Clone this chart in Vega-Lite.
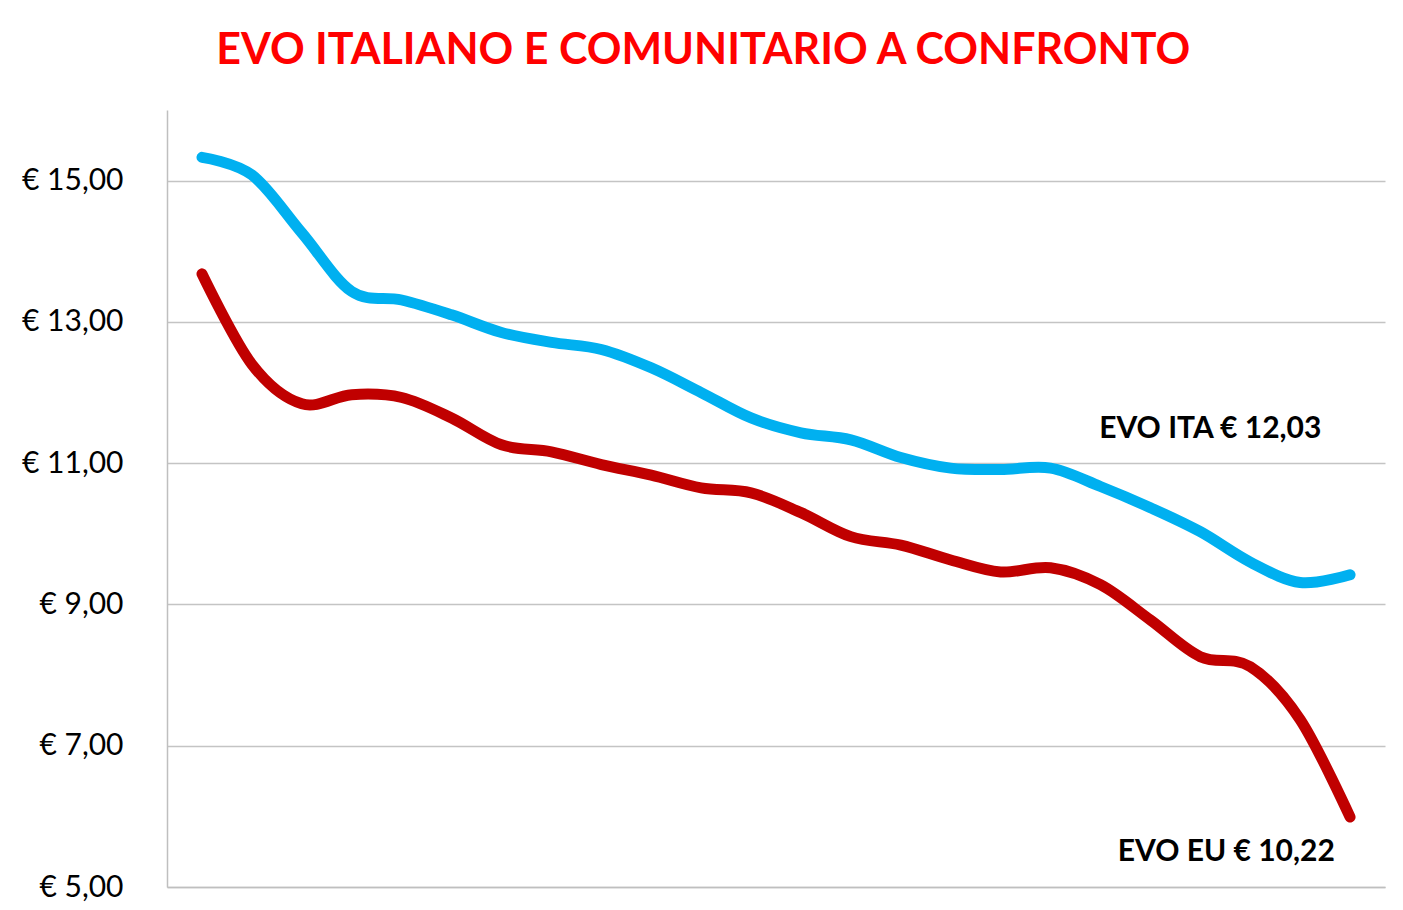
{
  "$schema": "https://vega.github.io/schema/vega-lite/v6.json",
  "width": 1218,
  "height": 777,
  "autosize": {"type": "none"},
  "padding": {"left": 167, "top": 110, "right": 18, "bottom": 23},
  "background": "white",
  "title": {
    "text": "EVO ITALIANO E COMUNITARIO A CONFRONTO",
    "color": "#FF0000",
    "font": "Lato",
    "fontSize": 43,
    "fontWeight": "bold",
    "anchor": "middle",
    "frame": "bounds",
    "offset": 37
  },
  "config": {"view": {"stroke": null}},
  "datasets": {
    "prices": [
      {"idx": 1, "serie": "EVO ITA", "prezzo": 15.33},
      {"idx": 2, "serie": "EVO ITA", "prezzo": 15.08},
      {"idx": 3, "serie": "EVO ITA", "prezzo": 14.26},
      {"idx": 4, "serie": "EVO ITA", "prezzo": 13.43},
      {"idx": 5, "serie": "EVO ITA", "prezzo": 13.31},
      {"idx": 6, "serie": "EVO ITA", "prezzo": 13.10},
      {"idx": 7, "serie": "EVO ITA", "prezzo": 12.85},
      {"idx": 8, "serie": "EVO ITA", "prezzo": 12.71},
      {"idx": 9, "serie": "EVO ITA", "prezzo": 12.61},
      {"idx": 10, "serie": "EVO ITA", "prezzo": 12.35},
      {"idx": 11, "serie": "EVO ITA", "prezzo": 12.00},
      {"idx": 12, "serie": "EVO ITA", "prezzo": 11.64},
      {"idx": 13, "serie": "EVO ITA", "prezzo": 11.43},
      {"idx": 14, "serie": "EVO ITA", "prezzo": 11.33},
      {"idx": 15, "serie": "EVO ITA", "prezzo": 11.08},
      {"idx": 16, "serie": "EVO ITA", "prezzo": 10.93},
      {"idx": 17, "serie": "EVO ITA", "prezzo": 10.91},
      {"idx": 18, "serie": "EVO ITA", "prezzo": 10.93},
      {"idx": 19, "serie": "EVO ITA", "prezzo": 10.67},
      {"idx": 20, "serie": "EVO ITA", "prezzo": 10.37},
      {"idx": 21, "serie": "EVO ITA", "prezzo": 10.03},
      {"idx": 22, "serie": "EVO ITA", "prezzo": 9.60},
      {"idx": 23, "serie": "EVO ITA", "prezzo": 9.31},
      {"idx": 24, "serie": "EVO ITA", "prezzo": 9.42},
      {"idx": 1, "serie": "EVO EU", "prezzo": 13.68},
      {"idx": 2, "serie": "EVO EU", "prezzo": 12.40},
      {"idx": 3, "serie": "EVO EU", "prezzo": 11.84},
      {"idx": 4, "serie": "EVO EU", "prezzo": 11.97},
      {"idx": 5, "serie": "EVO EU", "prezzo": 11.93},
      {"idx": 6, "serie": "EVO EU", "prezzo": 11.64},
      {"idx": 7, "serie": "EVO EU", "prezzo": 11.26},
      {"idx": 8, "serie": "EVO EU", "prezzo": 11.16},
      {"idx": 9, "serie": "EVO EU", "prezzo": 10.98},
      {"idx": 10, "serie": "EVO EU", "prezzo": 10.83},
      {"idx": 11, "serie": "EVO EU", "prezzo": 10.65},
      {"idx": 12, "serie": "EVO EU", "prezzo": 10.58},
      {"idx": 13, "serie": "EVO EU", "prezzo": 10.30},
      {"idx": 14, "serie": "EVO EU", "prezzo": 9.96},
      {"idx": 15, "serie": "EVO EU", "prezzo": 9.84},
      {"idx": 16, "serie": "EVO EU", "prezzo": 9.63},
      {"idx": 17, "serie": "EVO EU", "prezzo": 9.46},
      {"idx": 18, "serie": "EVO EU", "prezzo": 9.52},
      {"idx": 19, "serie": "EVO EU", "prezzo": 9.28},
      {"idx": 20, "serie": "EVO EU", "prezzo": 8.78},
      {"idx": 21, "serie": "EVO EU", "prezzo": 8.26},
      {"idx": 22, "serie": "EVO EU", "prezzo": 8.12},
      {"idx": 23, "serie": "EVO EU", "prezzo": 7.37},
      {"idx": 24, "serie": "EVO EU", "prezzo": 5.99}
    ],
    "labels": [
      {"idx": 21.2, "prezzo": 11.49, "label": "EVO ITA € 12,03"},
      {"idx": 21.52, "prezzo": 5.5, "label": "EVO EU € 10,22"}
    ]
  },
  "layer": [
    {
      "data": {"name": "prices"},
      "mark": {"type": "line", "interpolate": "cardinal", "strokeWidth": 11, "strokeCap": "round", "strokeJoin": "round"},
      "encoding": {
        "x": {
          "field": "idx",
          "type": "quantitative",
          "scale": {"domain": [0.2988, 24.7], "nice": false, "zero": false},
          "axis": {"title": null, "labels": false, "ticks": false, "grid": false, "domainColor": "#BFBFBF", "domainWidth": 1.5}
        },
        "y": {
          "field": "prezzo",
          "type": "quantitative",
          "scale": {"domain": [5, 16], "nice": false, "zero": false},
          "axis": {
            "title": null,
            "values": [5, 7, 9, 11, 13, 15],
            "labelExpr": "'€ ' + replace(format(datum.value, '.2f'), '.', ',')",
            "labelFont": "Lato",
            "labelFontSize": 30,
            "labelColor": "#000000",
            "labelPadding": 44,
            "ticks": false,
            "grid": true,
            "gridColor": "#C4C4C4",
            "gridWidth": 1.5,
            "domainColor": "#BFBFBF",
            "domainWidth": 1.5
          }
        },
        "color": {
          "field": "serie",
          "type": "nominal",
          "scale": {"domain": ["EVO ITA", "EVO EU"], "range": ["#00B0F0", "#C00000"]},
          "legend": null
        }
      }
    },
    {
      "data": {"name": "labels"},
      "mark": {"type": "text", "font": "Lato", "fontWeight": "bold", "fontSize": 30, "color": "#000000", "align": "center", "baseline": "middle"},
      "encoding": {
        "x": {"field": "idx", "type": "quantitative"},
        "y": {"field": "prezzo", "type": "quantitative"},
        "text": {"field": "label"}
      }
    }
  ]
}
